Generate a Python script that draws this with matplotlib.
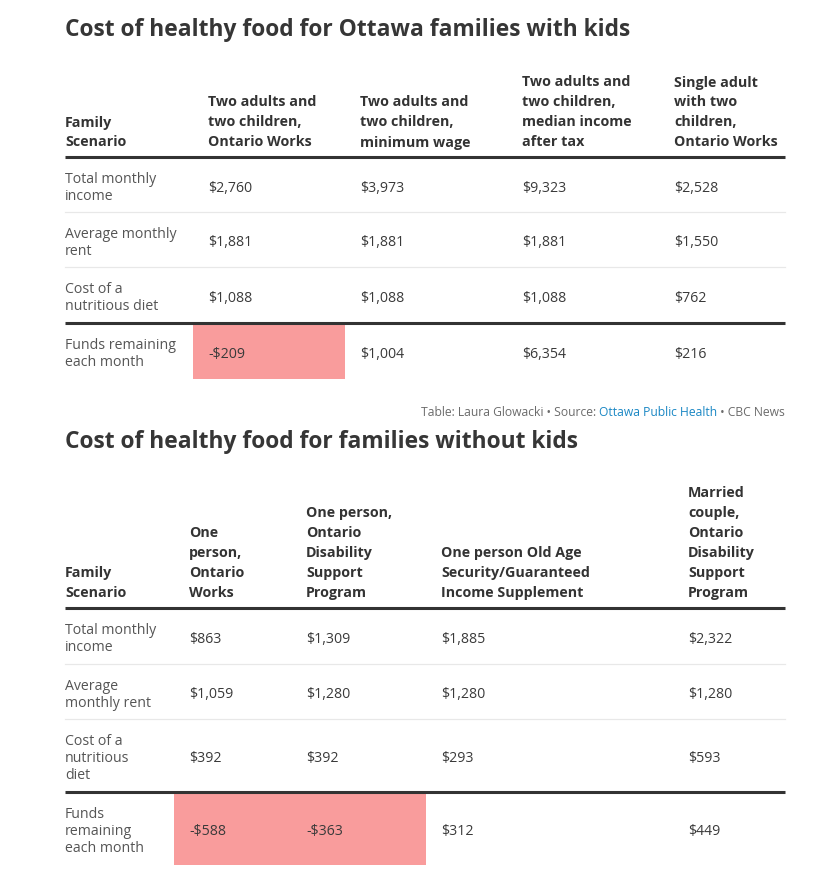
import numpy as np
import matplotlib
matplotlib.use("Agg")
import matplotlib.pyplot as plt
from matplotlib.patches import Rectangle

plt.rcParams['font.family'] = ['Open Sans', 'DejaVu Sans']

# ---- data -----------------------------------------------------------------
kids_title = "Cost of healthy food for Ottawa families with kids"
kids_headers = ["Family\nScenario",
                "Two adults and\ntwo children,\nOntario Works",
                "Two adults and\ntwo children,\nminimum wage",
                "Two adults and\ntwo children,\nmedian income\nafter tax",
                "Single adult\nwith two\nchildren,\nOntario Works"]
kids_rows = ["Total monthly\nincome", "Average monthly\nrent",
             "Cost of a\nnutritious diet", "Funds remaining\neach month"]
kids_income = [2760, 3973, 9323, 2528]
kids_rent = [1881, 1881, 1881, 1550]
kids_diet = [1088, 1088, 1088, 762]
kids_remaining = [-209, 1004, 6354, 216]

nokids_title = "Cost of healthy food for families without kids"
nokids_headers = ["Family\nScenario",
                  "One\nperson,\nOntario\nWorks",
                  "One person,\nOntario\nDisability\nSupport\nProgram",
                  "One person Old Age\nSecurity/Guaranteed\nIncome Supplement",
                  "Married\ncouple,\nOntario\nDisability\nSupport\nProgram"]
nokids_rows = ["Total monthly\nincome", "Average\nmonthly rent",
               "Cost of a\nnutritious\ndiet", "Funds\nremaining\neach month"]
nokids_income = [863, 1309, 1885, 2322]
nokids_rent = [1059, 1280, 1280, 1280]
nokids_diet = [392, 392, 293, 593]
nokids_remaining = [-588, -363, 312, 449]

footer_parts = [("Table: Laura Glowacki \u2022 Source: ", "#6b6b6b"),
                ("Ottawa Public Health", "#1a87c4"),
                (" \u2022 CBC News", "#6b6b6b")]

# ---- styling --------------------------------------------------------------
W, H = 826, 879
TITLE_C = "#363636"
HEAD_C = "#333333"
LABEL_C = "#555555"
VAL_C = "#3a3a3a"
NEG_FILL = "#f99c9c"
RULE_C = "#333333"
THIN_C = "#e8e8e8"
X_LEFT, X_RIGHT = 65, 785
DY = 2.5  # Open Sans sits a bit high with va="center"


def money(v):
    return f"-${abs(v):,}" if v < 0 else f"${v:,}"


fig = plt.figure(figsize=(W / 100, H / 100), dpi=100)
ax = fig.add_axes([0, 0, 1, 1])
ax.set_xlim(0, W)
ax.set_ylim(H, 0)
ax.axis("off")


def draw_table(title, title_y, headers, col_x, head_bottom, rule_y,
               row_labels, values, row_edges):
    ax.text(X_LEFT, title_y + DY, title, fontsize=16.35, fontweight="bold",
            color=TITLE_C, va="center", ha="left")

    # header, bottom aligned
    for x, h in zip(col_x, headers):
        lines = h.split("\n")
        for i, ln in enumerate(lines):
            y = head_bottom - (len(lines) - 1 - i) * 20
            ax.text(x, y + DY, ln, fontsize=10.3, fontweight="bold", color=HEAD_C,
                    va="center", ha="left")
    ax.plot([X_LEFT, X_RIGHT], [rule_y, rule_y], color=RULE_C, lw=2.2,
            solid_capstyle="butt")

    n_rows = len(row_labels)
    for r in range(n_rows):
        top, bot = row_edges[r], row_edges[r + 1]
        yc = (top + bot) / 2
        lines = row_labels[r].split("\n")
        for i, ln in enumerate(lines):
            y = yc + (i - (len(lines) - 1) / 2) * 17
            ax.text(X_LEFT, y + DY, ln, fontsize=10.2, color=LABEL_C,
                    va="center", ha="left")
        for c, v in enumerate(values[r]):
            x = col_x[c + 1]
            if v < 0:
                x0 = x - 15
                x1 = col_x[c + 2] - 15
                ax.add_patch(Rectangle((x0, top + 1.5), x1 - x0, bot - top - 1.5,
                                       facecolor=NEG_FILL, edgecolor="none",
                                       zorder=0))
            ax.text(x, yc + DY, money(v), fontsize=10.2, color=VAL_C,
                    va="center", ha="left")
        if r < n_rows - 1:
            if r == n_rows - 2:
                ax.plot([X_LEFT, X_RIGHT], [bot, bot], color=RULE_C, lw=2.2,
                        solid_capstyle="butt", zorder=3)
            else:
                ax.plot([X_LEFT, X_RIGHT], [bot, bot], color=THIN_C, lw=0.9)


draw_table(kids_title, 28, kids_headers, [65, 208, 360, 522, 674], 140, 158,
           kids_rows,
           [kids_income, kids_rent, kids_diet, kids_remaining],
           [158, 213, 268, 324, 380])

draw_table(nokids_title, 440, nokids_headers, [65, 189, 306, 441, 688], 591, 609,
           nokids_rows,
           [nokids_income, nokids_rent, nokids_diet, nokids_remaining],
           [609, 665, 720, 793, 866])

# footer, right aligned, built from the right
renderer = fig.canvas.get_renderer()
x = X_RIGHT
for txt, col in reversed(footer_parts):
    t = ax.text(x, 410 + DY, txt, fontsize=8.7, color=col, va="center", ha="right")
    bb = t.get_window_extent(renderer=renderer)
    x -= bb.width

fig.savefig("out.png", dpi=100, facecolor="white")
